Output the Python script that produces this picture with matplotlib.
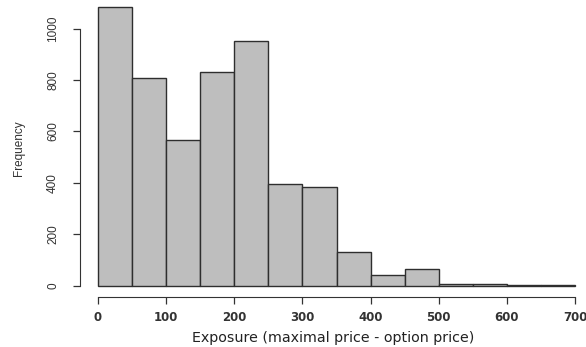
import numpy as np
import matplotlib.pyplot as plt

# histogram of exposure, bins of width 50 from 0 to 700
bin_edges = list(range(0, 750, 50))
counts = [1083, 808, 568, 831, 954, 395, 385, 131, 41, 64, 5, 6, 1, 2]
x_ticks = [0, 100, 200, 300, 400, 500, 600, 700]
y_ticks = [0, 200, 400, 600, 800, 1000]

W, H = 586, 347
fig = plt.figure(figsize=(W / 100, H / 100), dpi=100)

# axes placed in pixel terms: y axis line at x=80, x axis line at y=297
left_px, bottom_px = 80, 297
ax = fig.add_axes([left_px / W, (H - bottom_px) / H, (W - left_px) / W, bottom_px / H])

px_per_x = 477 / 700.0
px_per_y = 257 / 1000.0
ax.set_xlim((left_px - 98) / px_per_x, (W - 98) / px_per_x)
ax.set_ylim((285.7 - bottom_px) / px_per_y, 285.7 / px_per_y)

widths = np.diff(bin_edges)
ax.bar(bin_edges[:-1], counts, width=widths, align="edge",
       color="#bebebe", edgecolor="#2e2e2e", linewidth=1.0)

for s in ["top", "right"]:
    ax.spines[s].set_visible(False)
ax.spines["left"].set_bounds(0, 1000)
ax.spines["bottom"].set_bounds(0, 700)
ax.spines["left"].set_color("#333333")
ax.spines["bottom"].set_color("#333333")

ax.set_xticks(x_ticks)
ax.set_yticks(y_ticks)
ax.tick_params(axis="both", direction="out", length=5, width=0.9, color="#333333")
ax.tick_params(axis="x", pad=5)
ax.tick_params(axis="y", pad=10)

for lbl in ax.get_xticklabels():
    lbl.set_fontfamily("DejaVu Sans")
    lbl.set_fontsize(8.5)
    lbl.set_fontweight("bold")
    lbl.set_color("#333333")
for lbl in ax.get_yticklabels():
    lbl.set_fontfamily("Liberation Sans")
    lbl.set_fontsize(8.5)
    lbl.set_rotation(90)
    lbl.set_va("center")
    lbl.set_color("#333333")

ax.set_xlabel("Exposure (maximal price - option price)", fontfamily="DejaVu Sans",
              fontsize=10.3, color="#222222", labelpad=5)
ax.set_ylabel("Frequency", fontfamily="Liberation Sans", fontsize=8.5,
              color="#333333", labelpad=16)

fig.savefig("out.png", dpi=100)
